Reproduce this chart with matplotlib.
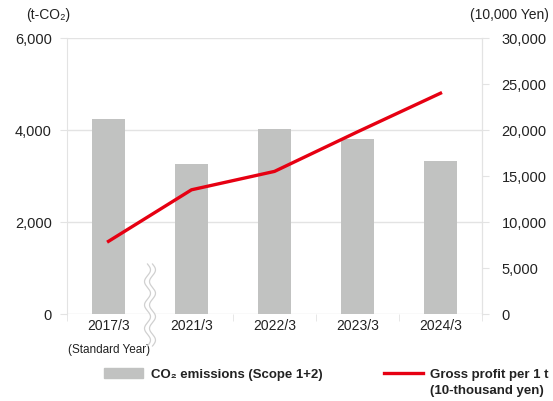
import numpy as np
import matplotlib
matplotlib.use("Agg")
import matplotlib.pyplot as plt
from matplotlib.patches import Patch
from matplotlib.lines import Line2D

plt.rcParams['font.family'] = ['Liberation Sans', 'DejaVu Sans']

categories = ["2017/3", "2021/3", "2022/3", "2023/3", "2024/3"]
co2 = [4230, 3270, 4020, 3800, 3320]
gross_profit = [7900, 13500, 15500, 19800, 24000]
left_ticks = [0, 2000, 4000, 6000]
right_ticks = [0, 5000, 10000, 15000, 20000, 25000, 30000]

W, H = 553, 402
fig = plt.figure(figsize=(W / 100, H / 100), dpi=100)
ax = fig.add_axes([67 / W, 1 - 315 / H, (482 - 67) / W, (315 - 39) / H])
ax2 = ax.twinx()

x = np.arange(len(categories))
grid_c = "#e3e3e3"
ax.bar(x, co2, width=0.4, color="#c1c2c1", zorder=2)
ax.set_ylim(0, 6000)
ax.set_xlim(-0.5, len(categories) - 0.5)
ax.set_yticks(left_ticks)
ax.set_yticklabels([f"{v:,}" for v in left_ticks], fontsize=10.5, color="#222222")
ax.grid(axis="y", color=grid_c, lw=1, zorder=0)
for s in ["top", "bottom"]:
    ax.spines[s].set_visible(False)
for s in ["left", "right"]:
    ax.spines[s].set_color(grid_c)
ax.tick_params(axis="y", length=5, color=grid_c, pad=6)
ax.set_xticks(x)
ax.set_xticklabels(categories, fontsize=10, color="#222222")
ax.tick_params(axis="x", length=0, pad=3)
ax.set_xticks(np.arange(-0.5, len(categories)), minor=True)
ax.tick_params(axis="x", which="minor", length=5, color=grid_c)

ax2.plot(x, gross_profit, color="#e60012", lw=2.4, zorder=3)
ax2.set_ylim(0, 30000)
ax2.set_yticks(right_ticks)
ax2.set_yticklabels([f"{v:,}" for v in right_ticks], fontsize=10.5, color="#222222")
ax2.tick_params(axis="y", length=5, color=grid_c, pad=9)
for s in ["top", "bottom", "left"]:
    ax2.spines[s].set_visible(False)
ax2.spines["right"].set_color(grid_c)

fig.text(48 / W, 1 - 15 / H, "(t-CO₂)", fontsize=10, ha="center", va="center", color="#222222")
fig.text(509 / W, 1 - 15 / H, "(10,000 Yen)", fontsize=10, ha="center", va="center", color="#222222")
fig.text(109 / W, 1 - 350 / H, "(Standard Year)", fontsize=8.5, ha="center", va="center", color="#222222")

# axis break squiggle
t = np.linspace(0, 1, 200)
yy = 1 - (265 + t * 82) / H
amp = 3.0 / W
xc = 150 / W
wave = amp * np.sin(t * 2 * np.pi * 3.5)
xl = xc - 2.5 / W + wave
xr = xc + 2.5 / W + wave
fig.patches.append(plt.Polygon(np.column_stack([np.r_[xl, xr[::-1]], np.r_[yy, yy[::-1]]]),
                               closed=True, facecolor="white", edgecolor="none",
                               transform=fig.transFigure, zorder=5))
fig.add_artist(Line2D(xl, yy, color="#d0d0d0", lw=0.9, transform=fig.transFigure, zorder=6))
fig.add_artist(Line2D(xr, yy, color="#d0d0d0", lw=0.9, transform=fig.transFigure, zorder=6))

leg1 = fig.legend(handles=[Patch(color="#c1c2c1")], labels=["CO₂ emissions (Scope 1+2)"],
                  loc="center left", bbox_to_anchor=(92 / W, 1 - 375 / H), frameon=False,
                  handlelength=3.0, handleheight=0.8, handletextpad=0.55,
                  prop={"weight": "bold", "size": 9.5})
leg2 = fig.legend(handles=[Line2D([], [], color="#e60012", lw=2.4)],
                  labels=["Gross profit per 1 t"],
                  loc="center left", bbox_to_anchor=(372 / W, 1 - 375 / H), frameon=False,
                  handlelength=3.0, handletextpad=0.5,
                  prop={"weight": "bold", "size": 9.5})
for leg in (leg1, leg2):
    for txt in leg.get_texts():
        txt.set_color("#222222")
fig.text(430 / W, 1 - 391 / H, "(10-thousand yen)", fontsize=9.5, fontweight="bold",
         ha="left", va="center", color="#222222")

fig.savefig("out.png", dpi=100)
